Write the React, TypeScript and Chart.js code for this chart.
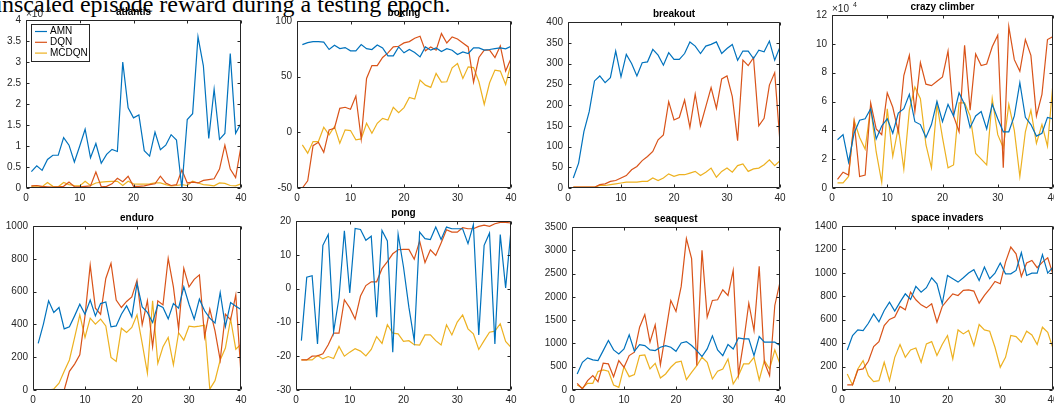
import React, { useEffect, useRef } from "react";
import { Chart, registerables } from "chart.js";

Chart.register(...registerables);

// ---------------- DATA ----------------
const EPOCHS = [1, 2, 3, 4, 5, 6, 7, 8, 9, 10, 11, 12, 13, 14, 15, 16, 17, 18, 19, 20,
  21, 22, 23, 24, 25, 26, 27, 28, 29, 30, 31, 32, 33, 34, 35, 36, 37, 38, 39, 40];

const SERIES_NAMES = ["AMN", "DQN", "MCDQN"];
const X_TICKS = [0, 10, 20, 30, 40];

const ATLANTIS_AMN = [39000, 53000, 42000, 68000, 78000, 78000, 120000, 102000, 62000, 100000,
  140000, 72000, 106000, 59000, 80000, 92000, 87000, 300000, 191000, 167000,
  174000, 89000, 76000, 133000, 91000, 102000, 127000, 114000, 0, 163000,
  177000, 360000, 291000, 118000, 235000, 116000, 130000, 320000, 130000, 154000];
const ATLANTIS_DQN = [5000, 6000, 4000, 3000, 2000, 3000, 4000, 14000, 3000, 3000,
  4000, 5000, 38000, 3000, 4000, 10000, 23000, 15000, 28000, 4000,
  4000, 5000, 8000, 10000, 28000, 12000, 6000, 8000, 43000, 12000,
  14000, 12000, 18000, 20000, 22000, 45000, 102000, 45000, 25000, 100000];
const ATLANTIS_MCDQN = [4000, 5000, 3000, 13000, 4000, 3000, 13000, 8000, 6000, 5000,
  16000, 6000, 12000, 14000, 15000, 16000, 16000, 6000, 16000, 10000,
  9000, 9000, 10000, 12000, 12000, 8000, 5000, 6000, 8000, 6000,
  16000, 12000, 8000, 7000, 5000, 12000, 11000, 6000, 5000, 10000];

const BOXING_AMN = [78.8, 80.6, 81.5, 81.5, 81, 74.4, 78.2, 75.2, 76.1, 73.2,
  73.2, 78.8, 75.2, 74.4, 78.5, 75.8, 68.7, 68.7, 76.7, 71.4,
  74.4, 71.7, 67.8, 76.7, 73.8, 75.8, 72.6, 75.2, 73.8, 69.9,
  72.3, 70.8, 75.8, 75.8, 73.8, 74.4, 75.2, 75.8, 75, 77.3];
const BOXING_DQN = [-50, -43.5, -12, -9, -18, 2.2, 3.7, 21.6, 22.5, 20.7,
  32.6, -5.9, 48.4, 60, 60, 67.2, 71.4, 76.7, 77.3, 80.3,
  81.5, 84.5, 86.3, 73.2, 76.7, 73.8, 88.7, 80.3, 85.7, 83.9,
  80.3, 76.7, 45.1, 67.2, 73.8, 73.8, 67.2, 77.6, 55, 66.3];
const BOXING_MCDQN = [-11.2, -18.7, -8.3, -8.3, 4.6, -2.3, 5.2, -9.8, 2.2, 1.6,
  -6.8, -5.9, 8.1, -0.8, 8.1, 12.6, 11.1, 22.5, 17.7, 22.2,
  31.4, 29.9, 46.9, 42.4, 40.4, 52.9, 45.1, 45.4, 57.9, 61.8,
  48.4, 58.8, 58.2, 45.4, 25.1, 44.5, 55.9, 55, 43, 61.8];

const BREAKOUT_AMN = [24, 60, 136, 184, 258, 270, 254, 266, 330, 268,
  322, 300, 270, 302, 304, 334, 320, 296, 326, 310,
  310, 324, 352, 342, 324, 342, 346, 352, 324, 336,
  346, 308, 330, 330, 312, 332, 328, 354, 308, 340];
const BREAKOUT_DQN = [2, 2, 2, 2, 2, 8, 10, 16, 18, 24,
  30, 44, 52, 66, 76, 88, 116, 128, 208, 164,
  170, 212, 146, 226, 150, 196, 242, 192, 263, 270,
  220, 114, 308, 295, 314, 150, 168, 248, 278, 110];
const BREAKOUT_MCDQN = [2, 2, 2, 2, 2, 6, 6, 8, 10, 12,
  14, 14, 14, 16, 16, 24, 18, 24, 34, 28,
  32, 32, 36, 40, 30, 38, 48, 26, 40, 48,
  38, 54, 58, 40, 46, 48, 56, 68, 54, 66];

const CRAZY_AMN = [33500, 37000, 18000, 38000, 47000, 48000, 55000, 34000, 43000, 48000,
  38000, 52000, 55000, 65000, 46000, 44000, 35000, 44000, 60000, 46000,
  58000, 50000, 66000, 58000, 42000, 50000, 53000, 41000, 58000, 48000,
  39000, 39000, 50000, 73000, 49000, 44000, 36000, 38000, 49000, 48000];
const CRAZY_DQN = [6000, 11000, 9000, 46000, 8000, 9000, 59000, 41000, 37000, 66000,
  56000, 39000, 78000, 92000, 53000, 87000, 72000, 71000, 74000, 77000,
  95000, 50000, 39000, 99000, 54000, 93000, 85000, 86000, 98000, 106000,
  14000, 112000, 89000, 81000, 103000, 92000, 50000, 65000, 103000, 105000];
const CRAZY_MCDQN = [3500, 3500, 8000, 47000, 35000, 27000, 56000, 25000, 4000, 55000,
  22000, 42000, 13000, 54000, 70000, 62000, 30000, 14000, 58000, 35000,
  14000, 16000, 59000, 59000, 50000, 24000, 20000, 16000, 62000, 37000,
  28000, 58000, 40000, 8000, 39000, 54000, 31000, 44000, 29000, 73000];

const ENDURO_AMN = [284, 402, 544, 473, 503, 373, 385, 452, 523, 462,
  548, 452, 527, 537, 385, 391, 462, 513, 446, 649,
  507, 473, 412, 519, 503, 434, 527, 499, 629, 523,
  432, 554, 483, 438, 408, 594, 387, 533, 511, 491];
const ENDURO_DQN = [0, 0, 0, 0, 0, 0, 114, 158, 215, 452,
  761, 499, 462, 680, 773, 548, 503, 540, 568, 669,
  398, 544, 264, 544, 519, 803, 629, 371, 742, 629,
  675, 702, 325, 493, 361, 183, 462, 428, 580, 97];
const ENDURO_MCDQN = [0, 0, 0, 6, 41, 114, 183, 320, 458, 320,
  438, 402, 432, 391, 199, 174, 377, 351, 381, 458,
  284, 103, 544, 162, 264, 320, 154, 349, 304, 389,
  385, 389, 395, 5, 57, 183, 256, 432, 249, 280];

const PONG_AMN = [-15.4, 3.4, 3.8, -16.4, 12.8, 16.0, -12.7, -2.7, 17.1, -1.3,
  17.8, 17.5, 14.3, 15.5, -8.5, 17.2, 14.1, -18.8, 16.1, 6.4,
  -5.5, -15.4, 16.7, 14.8, 14.5, 18.2, 14.5, 18.2, 17.7, 17.7,
  17.7, 13.3, 18.9, -13.7, 12.8, 16.4, -16.4, 16.0, 0.2, 17.4];
const PONG_DQN = [-21.1, -21.1, -20.0, -19.9, -19.3, -16.6, -13.2, -13.2, -3.3, -5.7,
  -9.0, -2.2, 0.9, 2.0, 2.0, 5.9, 8.0, 10.3, 11.5, 11.6,
  11.6, 8.7, 14.1, 7.7, 11.5, 9.8, 13.5, 17.4, 16.7, 16.7,
  18.0, 17.7, 17.7, 18.4, 18.8, 18.4, 19.2, 19.6, 19.6, 19.4];
const PONG_MCDQN = [-21.1, -21.1, -21.1, -19.8, -20.8, -20.1, -20.7, -17.1, -20.0, -18.8,
  -17.8, -18.5, -19.9, -18.0, -14.2, -16.2, -10.7, -13.2, -13.4, -15.6,
  -15.4, -16.6, -16.7, -13.7, -13.7, -15.4, -16.7, -10.7, -13.7, -9.9,
  -7.8, -11.9, -13.4, -18.0, -15.4, -12.9, -12.6, -10.4, -15.6, -17.4];

const SEAQUEST_AMN = [344, 595, 689, 646, 631, 846, 1062, 861, 775, 882,
  1184, 832, 976, 954, 861, 846, 918, 954, 918, 832,
  1011, 1040, 954, 846, 717, 882, 1162, 861, 739, 976,
  882, 1119, 1098, 1098, 739, 1148, 1026, 1026, 1026, 954];
const SEAQUEST_DQN = [143, 22, 201, 308, 179, 574, 560, 287, 631, 488,
  739, 811, 1349, 1621, 1026, 1399, 538, 1220, 1923, 1686,
  2224, 3250, 2819, 524, 2999, 1564, 1923, 1937, 2152, 2030,
  2568, 330, 1026, 1865, 1277, 2654, 595, 308, 1815, 2317];
const SEAQUEST_MCDQN = [108, 43, 143, 143, 395, 430, 402, 108, 57, 502,
  287, 330, 739, 753, 452, 574, 258, 344, 488, 595,
  617, 222, 380, 524, 703, 595, 237, 402, 452, 667,
  129, 308, 560, 560, 703, 215, 631, 452, 861, 560];

const SPACE_AMN = [342, 465, 513, 508, 570, 650, 582, 679, 750, 673,
  750, 821, 773, 884, 835, 873, 958, 907, 736, 978,
  950, 921, 958, 998, 1027, 935, 1049, 950, 998, 1084,
  992, 992, 1021, 1172, 978, 998, 998, 1155, 998, 1049];
const SPACE_DQN = [43, 43, 171, 180, 245, 371, 413, 550, 602, 622,
  713, 684, 835, 770, 727, 701, 736, 579, 713, 770,
  821, 807, 850, 855, 844, 741, 807, 864, 927, 907,
  1092, 1220, 1163, 969, 1084, 1106, 1044, 1092, 1129, 987];
const SPACE_MCDQN = [137, 43, 180, 251, 123, 71, 80, 237, 80, 279,
  388, 279, 342, 359, 237, 394, 413, 294, 388, 465,
  265, 513, 479, 508, 379, 559, 513, 502, 365, 194,
  279, 465, 456, 408, 502, 470, 388, 536, 493, 356];

const CAPTION = "unscaled episode reward during a testing epoch.";

// ---------------- SUBPLOT SPECS ----------------
type Spec = {
  title: string;
  series: number[][];
  yMin: number;
  yMax: number;
  yStep: number;
  scale?: number;
  exp?: string;
  legend?: boolean;
};

const SPECS: Spec[] = [
  { title: "atlantis", series: [ATLANTIS_AMN, ATLANTIS_DQN, ATLANTIS_MCDQN], yMin: 0, yMax: 400000, yStep: 50000, scale: 100000, exp: "5", legend: true },
  { title: "boxing", series: [BOXING_AMN, BOXING_DQN, BOXING_MCDQN], yMin: -50, yMax: 100, yStep: 50 },
  { title: "breakout", series: [BREAKOUT_AMN, BREAKOUT_DQN, BREAKOUT_MCDQN], yMin: 0, yMax: 400, yStep: 50 },
  { title: "crazy climber", series: [CRAZY_AMN, CRAZY_DQN, CRAZY_MCDQN], yMin: 0, yMax: 120000, yStep: 20000, scale: 10000, exp: "4" },
  { title: "enduro", series: [ENDURO_AMN, ENDURO_DQN, ENDURO_MCDQN], yMin: 0, yMax: 1000, yStep: 200 },
  { title: "pong", series: [PONG_AMN, PONG_DQN, PONG_MCDQN], yMin: -30, yMax: 20, yStep: 10 },
  { title: "seaquest", series: [SEAQUEST_AMN, SEAQUEST_DQN, SEAQUEST_MCDQN], yMin: 0, yMax: 3500, yStep: 500 },
  { title: "space invaders", series: [SPACE_AMN, SPACE_DQN, SPACE_MCDQN], yMin: 0, yMax: 1400, yStep: 200 },
];

// plot-area rectangles [left, top, right, bottom] in page pixels
const RECTS: number[][] = [
  [26, 20, 241, 188],
  [297, 21, 511, 188],
  [568, 22, 780, 188],
  [832, 15, 1053, 188],
  [33, 226, 241, 390],
  [296, 221, 511, 390],
  [572, 227, 780, 390],
  [842, 226, 1053, 390],
];

const COLORS = ["#0072BD", "#D95319", "#EDB120"];
const AXIS_COLOR = "#262626";
const FONT = "'Liberation Sans', Arial, Helvetica, sans-serif";
const PAD_L = 42;
const PAD_T = 24;
const PAD_R = 14;
const PAD_B = 20;

const framePlugin = {
  id: "frame",
  afterDraw(chart: any, _args: any, opts: any) {
    const { ctx, chartArea: a, scales } = chart;
    ctx.save();
    ctx.strokeStyle = AXIS_COLOR;
    ctx.lineWidth = 1;
    const L = Math.round(a.left) + 0.5;
    const T = Math.round(a.top) + 0.5;
    const R = Math.round(a.right) - 0.5;
    const B = Math.round(a.bottom) - 0.5;
    ctx.beginPath();
    ctx.rect(L, T, R - L, B - T);
    const tl = 3;
    scales.x.ticks.forEach((t: any) => {
      const x = Math.round(scales.x.getPixelForValue(t.value)) + 0.5;
      ctx.moveTo(x, B); ctx.lineTo(x, B - tl);
      ctx.moveTo(x, T); ctx.lineTo(x, T + tl);
    });
    scales.y.ticks.forEach((t: any) => {
      const y = Math.round(scales.y.getPixelForValue(t.value)) + 0.5;
      ctx.moveTo(L, y); ctx.lineTo(L + tl, y);
      ctx.moveTo(R, y); ctx.lineTo(R - tl, y);
    });
    ctx.stroke();

    // title
    ctx.fillStyle = "#000";
    ctx.font = `bold 10px ${FONT}`;
    ctx.textAlign = "center";
    ctx.textBaseline = "middle";
    ctx.fillText(opts.title, (a.left + a.right) / 2, a.top - 8);

    // exponent
    if (opts.exp) {
      ctx.fillStyle = AXIS_COLOR;
      ctx.font = `10px ${FONT}`;
      ctx.textAlign = "left";
      const base = "\u00d710";
      ctx.fillText(base, a.left, a.top - 6);
      const w = ctx.measureText(base).width;
      ctx.font = `7px ${FONT}`;
      ctx.fillText(opts.exp, a.left + w + 4, a.top - 10);
    }

    // legend
    if (opts.legend) {
      const lx = a.left + 4.5;
      const ly = a.top + 3.5;
      ctx.fillStyle = "#fff";
      ctx.fillRect(lx, ly, 58, 37);
      ctx.strokeStyle = AXIS_COLOR;
      ctx.strokeRect(Math.round(lx) + 0.5, Math.round(ly) + 0.5, 58, 37);
      ctx.font = `10px ${FONT}`;
      ctx.textAlign = "left";
      ctx.textBaseline = "middle";
      SERIES_NAMES.forEach((name, i) => {
        const y = a.top + 11.5 + i * 10.8;
        ctx.strokeStyle = COLORS[i];
        ctx.lineWidth = 1.2;
        ctx.beginPath();
        ctx.moveTo(a.left + 9, y);
        ctx.lineTo(a.left + 21, y);
        ctx.stroke();
        ctx.fillStyle = "#000";
        ctx.fillText(name, a.left + 24, y);
      });
    }
    ctx.restore();
  },
};

function SubPlot({ spec, rect }: { spec: Spec; rect: number[] }) {
  const ref = useRef<HTMLCanvasElement | null>(null);
  const [L, T, R, B] = rect;
  const width = R - L + PAD_L + PAD_R;
  const height = B - T + PAD_T + PAD_B;

  useEffect(() => {
    if (!ref.current) return;
    const chart = new Chart(ref.current, {
      type: "line",
      data: {
        datasets: spec.series.map((vals, i) => ({
          label: SERIES_NAMES[i],
          data: EPOCHS.map((e, j) => ({ x: e, y: vals[j] })),
          borderColor: COLORS[i],
          backgroundColor: COLORS[i],
          borderWidth: 1.2,
          pointRadius: 0,
          tension: 0,
          fill: false,
        })),
      },
      options: {
        animation: false,
        responsive: false,
        devicePixelRatio: 1,
        events: [],
        layout: { padding: { top: PAD_T, right: PAD_R, left: 0, bottom: 0 } },
        plugins: {
          legend: { display: false },
          tooltip: { enabled: false },
          title: { display: false },
          frame: { title: spec.title, exp: spec.exp, legend: spec.legend },
        } as any,
        scales: {
          x: {
            type: "linear",
            min: X_TICKS[0],
            max: X_TICKS[X_TICKS.length - 1],
            afterBuildTicks: (axis: any) => {
              axis.ticks = X_TICKS.map((v) => ({ value: v }));
            },
            afterFit: (axis: any) => { axis.height = PAD_B; },
            ticks: {
              color: AXIS_COLOR,
              font: { size: 10, family: FONT },
              padding: 4,
              maxRotation: 0,
              autoSkip: false,
            },
            grid: { display: false, drawTicks: false },
            border: { display: false },
          },
          y: {
            type: "linear",
            min: spec.yMin,
            max: spec.yMax,
            afterFit: (axis: any) => { axis.width = PAD_L; },
            ticks: {
              stepSize: spec.yStep,
              color: AXIS_COLOR,
              font: { size: 10, family: FONT },
              padding: 5,
              autoSkip: false,
              callback: (v: any) => {
                const n = Number(v);
                if (spec.scale) return String(Math.round((n / spec.scale) * 10) / 10);
                return String(n);
              },
            },
            grid: { display: false, drawTicks: false },
            border: { display: false },
          },
        },
      },
      plugins: [framePlugin],
    } as any);
    return () => chart.destroy();
  }, [spec]);

  return (
    <canvas
      ref={ref}
      width={width}
      height={height}
      style={{ position: "absolute", left: L - PAD_L, top: T - PAD_T, width, height }}
    />
  );
}

export default function App() {
  return (
    <div
      style={{
        position: "absolute",
        left: 0,
        top: 0,
        width: 1054,
        height: 404,
        overflow: "hidden",
        background: "#fff",
      }}
    >
      <div
        style={{
          position: "absolute",
          left: -10,
          top: -7.6,
          fontFamily: "'Liberation Serif', 'Times New Roman', serif",
          fontSize: 24,
          lineHeight: "24px",
          whiteSpace: "nowrap",
          color: "#000",
        }}
      >
        {CAPTION}
      </div>
      {SPECS.map((s, i) => (
        <SubPlot key={s.title} spec={s} rect={RECTS[i]} />
      ))}
    </div>
  );
}
